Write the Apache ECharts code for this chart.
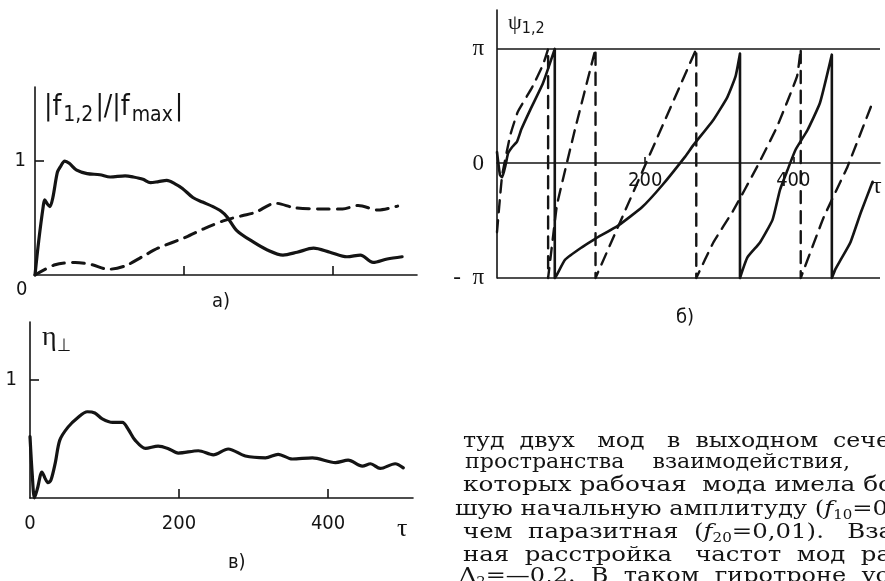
<!DOCTYPE html>
<html>
<head>
<meta charset="utf-8">
<script src="https://cdn.jsdelivr.net/npm/echarts@6/dist/echarts.min.js"></script>
<style>
  html, body { margin: 0; padding: 0; background: #fff; }
  #chart { width: 885px; height: 581px; }
</style>
</head>
<body>
<div id="chart"></div>
<script>
// а) |f1,2|/|fmax| — solid: working mode, dashed: parasitic mode
const tauAmp1 = [0, 5, 11, 13, 17, 20, 24, 30, 34, 40, 46, 56, 70, 87, 101, 121, 132, 145, 155, 166, 177, 188, 198, 212, 225, 239, 250, 258, 271, 293, 312, 333, 352, 374, 396, 419, 437, 454, 473, 493];
const amp1 = [0, 0.3, 0.6, 0.66, 0.62, 0.6, 0.68, 0.9, 0.95, 1.0, 0.98, 0.92, 0.89, 0.88, 0.86, 0.87, 0.86, 0.84, 0.81, 0.82, 0.83, 0.8, 0.76, 0.68, 0.64, 0.6, 0.56, 0.51, 0.39, 0.29, 0.22, 0.175, 0.2, 0.235, 0.2, 0.16, 0.175, 0.11, 0.14, 0.16];
const tauAmp2 = [0, 27, 54, 77, 98, 121, 144, 165, 202, 228, 255, 278, 296, 323, 349, 386, 413, 434, 461, 487];
const amp2 = [0, 0.09, 0.11, 0.09, 0.05, 0.08, 0.16, 0.235, 0.33, 0.41, 0.48, 0.52, 0.55, 0.63, 0.59, 0.58, 0.58, 0.61, 0.57, 0.605];

// б) phases psi1,2 in units of pi
const tauPhase1 = [0, 4, 7, 12, 15, 20, 27, 33, 45, 62, 78, 78, 81, 92, 115, 132, 164, 196, 223, 254, 265, 292, 311, 322, 328, 328, 338, 355, 372, 382, 392, 403, 419, 436, 452, 452, 457, 464, 477, 491, 507];
const phase1 = [0.1, -0.1, -0.12, 0.0, 0.09, 0.14, 0.19, 0.3, 0.47, 0.7, 1, -1, -0.97, -0.84, -0.73, -0.66, -0.54, -0.38, -0.19, 0.06, 0.16, 0.38, 0.58, 0.76, 0.96, -1, -0.82, -0.69, -0.49, -0.23, -0.06, 0.12, 0.29, 0.53, 0.95, -1, -0.92, -0.84, -0.69, -0.43, -0.16];
const tauPhase2 = [0, 4, 7, 18, 28, 47, 62, 69, 69, 76, 81, 105, 131, 133, 133, 201, 269, 269, 292, 319, 351, 378, 405, 410, 410, 441, 473, 508];
const phase2 = [-0.6, -0.3, -0.1, 0.25, 0.45, 0.66, 0.86, 1, -1, -0.62, -0.36, 0.29, 0.95, 1, -1, 0, 1, -1, -0.69, -0.41, -0.03, 0.32, 0.76, 1, -1, -0.47, -0.03, 0.55];

// в) eta_perp
const tauEta = [0, 3, 6, 10, 16, 20, 24, 28, 34, 40, 51, 64, 77, 87, 97, 111, 124, 132, 141, 155, 172, 185, 199, 226, 246, 266, 289, 316, 333, 352, 379, 410, 427, 446, 457, 470, 490, 501];
const eta = [0.52, 0.2, 0, 0.08, 0.22, 0.17, 0.13, 0.15, 0.3, 0.49, 0.6, 0.68, 0.73, 0.72, 0.67, 0.64, 0.64, 0.58, 0.49, 0.42, 0.44, 0.42, 0.38, 0.4, 0.365, 0.415, 0.355, 0.34, 0.37, 0.33, 0.34, 0.3, 0.32, 0.27, 0.29, 0.25, 0.29, 0.255];

const tauTicks = [200, 400];
const tauLabels = [0, 200, 400];
const unitTicks = [1];
const phaseTicks = [-1, 0, 1];
const phaseNames = { '-1': '-  π', '0': '0', '1': 'π' };

// book text beside the figure (cut off by the page edge)
const textLines = [
  'туд  двух   мод   в  выходном  сечении',
  'пространства    взаимодействия,',
  'которых рабочая  мода имела боль',
  'шую начальную амплитуду ({i|f}{s|10}=0,1',
  'чем  паразитная  ({i|f}{s|20}=0,01).   Взаим',
  'ная  расстройка   частот  мод  рав',
  'Δ{s|2}=—0,2.  В  таком  гиротроне  уст',
];
// left edge, y centre and the x where the last whole glyph shown should end
const textLineX = [463, 465, 463, 455, 463, 463, 459];
const textLineY = [442, 463, 486, 510, 533, 556, 577];
const textLineWidth = [
  ['туд  двух   мод   в  выходном  сече', 427],
  ['пространства    взаимодействия,', 385],
  ['которых рабочая  мода имела бо', 430],
  ['шую начальную амплитуду ({i|f}{s|10}=0', 433],
  ['чем  паразитная  ({i|f}{s|20}=0,01).   Вза', 430],
  ['ная  расстройка   частот  мод  ра', 428],
  ['Δ{s|2}=—0,2.  В  таком  гиротроне  ус', 430],
];

const zip = (xs, ys) => xs.map((x, i) => [x, ys[i]]);

const ink = '#141414';
const axisLine = { color: ink, width: 1.6 };
const numFont = "'DejaVu Sans Condensed', 'Liberation Sans', sans-serif";
const serif = "'Liberation Serif', 'DejaVu Serif', serif";
const bookFont = "'DejaVu Serif', 'Liberation Serif', serif";
const bookSize = 21;
const bookSub = 13;

const measureCtx = document.createElement('canvas').getContext('2d');
const measureRich = (text) => {
  let width = 0;
  text.split(/(\{[a-z]\|[^}]*\})/).forEach((part) => {
    const m = part.match(/^\{([a-z])\|([^}]*)\}$/);
    const style = m ? m[1] : 'n';
    const str = m ? m[2] : part;
    if (!str) return;
    measureCtx.font = style === 's' ? `${bookSub}px ${bookFont}`
      : style === 'i' ? `italic ${bookSize}px ${bookFont}` : `${bookSize}px ${bookFont}`;
    width += measureCtx.measureText(str).width;
  });
  return width;
};

const chart = echarts.init(document.getElementById('chart'));

const lineSeries = (name, axis, data, dashed, width) => ({
  name,
  type: 'line',
  xAxisIndex: axis,
  yAxisIndex: axis,
  data,
  showSymbol: false,
  smooth: 0.3,
  lineStyle: {
    color: ink,
    width,
    type: dashed ? [12, 8] : 'solid',
    cap: 'round',
    join: 'round',
  },
  clip: false,
  z: 3,
});

const bookText = textLines.map((text, i) => {
  const [visible, target] = textLineWidth[i];
  return {
    type: 'text',
    x: textLineX[i],
    y: textLineY[i],
    scaleX: target / measureRich(visible),
    style: {
      text,
      font: `${bookSize}px ${bookFont}`,
      fill: ink,
      align: 'left',
      verticalAlign: 'middle',
      rich: {
        i: { fontFamily: bookFont, fontStyle: 'italic', fontSize: bookSize },
        s: { fontFamily: bookFont, fontSize: bookSub, padding: [11, 0, 0, 0] },
      },
    },
  };
});

chart.setOption({
  animation: false,
  backgroundColor: '#fff',
  grid: [
    { left: 35, top: 87, width: 382, height: 188 },
    { left: 497, top: 10, width: 383, height: 268 },
    { left: 30, top: 322, width: 383, height: 176 },
  ],
  xAxis: [
    {
      gridIndex: 0, type: 'value', min: 0, max: 513,
      axisLine: { onZero: false, lineStyle: axisLine },
      axisTick: { inside: true, length: 9, customValues: tauTicks, lineStyle: axisLine },
      axisLabel: { show: false },
      splitLine: { show: false },
    },
    {
      // the tau axis of б) runs along psi = 0
      gridIndex: 1, type: 'value', min: 0, max: 517, offset: -115,
      axisLine: { onZero: false, lineStyle: axisLine },
      axisTick: { inside: true, length: 6, customValues: tauTicks, lineStyle: axisLine },
      axisLabel: { customValues: tauLabels.slice(1), margin: 8, color: ink, fontSize: 20, fontFamily: numFont },
      splitLine: { show: false },
    },
    {
      gridIndex: 2, type: 'value', min: 0, max: 514,
      axisLine: { onZero: false, lineStyle: axisLine },
      axisTick: { inside: true, length: 9, customValues: tauTicks, lineStyle: axisLine },
      axisLabel: { customValues: tauLabels, margin: 16, color: ink, fontSize: 20, fontFamily: numFont },
      splitLine: { show: false },
    },
  ],
  yAxis: [
    {
      gridIndex: 0, type: 'value', min: 0, max: 1.65,
      axisLine: { show: true, onZero: false, lineStyle: axisLine },
      axisTick: { show: true, inside: true, length: 9, customValues: unitTicks, lineStyle: axisLine },
      axisLabel: { customValues: unitTicks, margin: 9, color: ink, fontSize: 20, fontFamily: numFont },
      splitLine: { show: false },
    },
    {
      gridIndex: 1, type: 'value', min: -1, max: 1.34,
      axisLine: { show: true, onZero: false, lineStyle: axisLine },
      axisTick: { show: false },
      axisLabel: {
        customValues: phaseTicks, margin: 13, color: ink, fontSize: 23, fontFamily: serif,
        formatter: (v) => phaseNames[String(v)],
      },
      splitLine: { show: false },
    },
    {
      gridIndex: 2, type: 'value', min: 0, max: 1.49,
      axisLine: { show: true, onZero: false, lineStyle: axisLine },
      axisTick: { show: true, inside: true, length: 9, customValues: unitTicks, lineStyle: axisLine },
      axisLabel: { customValues: unitTicks, margin: 13, color: ink, fontSize: 20, fontFamily: numFont },
      splitLine: { show: false },
    },
  ],
  series: [
    lineSeries('f1', 0, zip(tauAmp1, amp1), false, 3.2),
    lineSeries('f2', 0, zip(tauAmp2, amp2), true, 3),
    Object.assign(lineSeries('psi1', 1, zip(tauPhase1, phase1), false, 2.6), {
      smooth: 0.15,
      markLine: {
        silent: true,
        symbol: 'none',
        label: { show: false },
        lineStyle: { color: ink, width: 1.6, type: 'solid' },
        data: [{ yAxis: 1 }, { yAxis: -1 }],
      },
    }),
    Object.assign(lineSeries('psi2', 1, zip(tauPhase2, phase2), true, 2.4), { smooth: 0.1 }),
    lineSeries('eta', 2, zip(tauEta, eta), false, 3.2),
  ],
  graphic: [
    { type: 'text', left: 16, top: 280, style: { text: '0', font: `20px ${numFont}`, fill: ink } },
    {
      type: 'text', left: 44, top: 94,
      style: {
        text: '{m||f}{s|1,2}{m||/|f}{s|max}{m||}',
        fill: ink,
        rich: {
          m: { fontSize: 28, fontFamily: numFont },
          s: { fontSize: 21, fontFamily: numFont, padding: [16, 2, 0, 2] },
        },
      },
    },
    {
      type: 'text', left: 508, top: 12,
      style: {
        text: '{m|ψ}{s|1,2}',
        fill: ink,
        rich: {
          m: { fontSize: 22, fontFamily: serif },
          s: { fontSize: 16, fontFamily: numFont, padding: [12, 0, 0, 0] },
        },
      },
    },
    {
      type: 'text', left: 42, top: 324,
      style: {
        text: '{m|η}{s|⊥}',
        fill: ink,
        rich: {
          m: { fontSize: 28, fontFamily: serif },
          s: { fontSize: 18, fontFamily: numFont, padding: [16, 0, 0, 0] },
        },
      },
    },
    { type: 'text', left: 872, top: 175, style: { text: 'τ', font: `24px ${serif}`, fill: ink } },
    { type: 'text', left: 397, top: 516, style: { text: 'τ', font: `26px ${serif}`, fill: ink } },
    { type: 'text', left: 212, top: 292, style: { text: 'а)', font: `20px ${numFont}`, fill: ink } },
    { type: 'text', left: 676, top: 308, style: { text: 'б)', font: `20px ${numFont}`, fill: ink } },
    { type: 'text', left: 228, top: 553, style: { text: 'в)', font: `20px ${numFont}`, fill: ink } },
    ...bookText,
  ],
});
</script>
</body>
</html>
